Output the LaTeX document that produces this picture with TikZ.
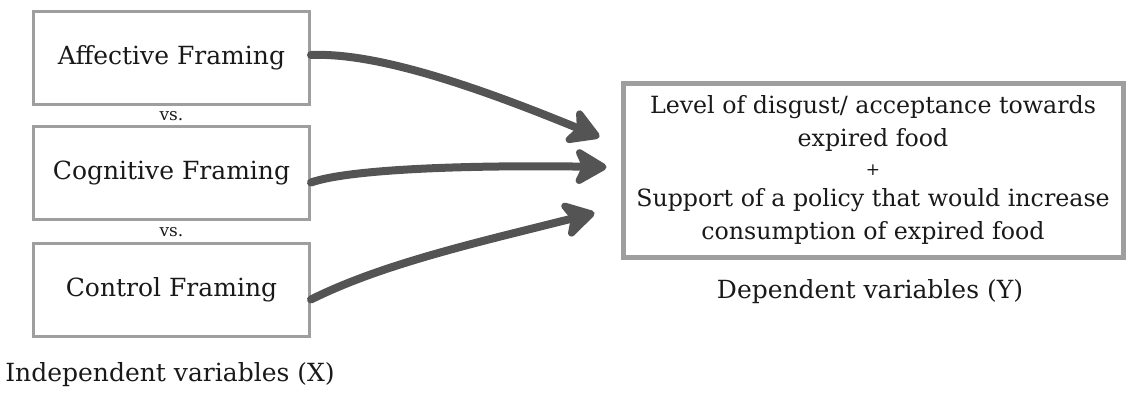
\documentclass[tikz,border=0pt]{standalone}
\usepackage{fontspec}
\setmainfont{DejaVu Serif}
\usetikzlibrary{arrows.meta}
\definecolor{framegray}{HTML}{9E9E9E}
\definecolor{arrowgray}{HTML}{545454}
\tikzset{
  framebox/.style={draw=framegray, line width=3pt, minimum width=276pt, minimum height=93pt,
    font=\fontsize{25}{30}\selectfont, text=black!90},
  vslabel/.style={font=\fontsize{17}{20}\selectfont, text=black!90},
  caption/.style={font=\fontsize{25}{30}\selectfont, text=black!90},
  fatarrow/.style={draw=arrowgray, line width=8pt, line cap=round,
    -{Stealth[length=38pt, width=44pt, inset=10pt, round]}}
}
\begin{document}
\begin{tikzpicture}[x=1pt, y=1pt]
            \useasboundingbox (0, 0) rectangle (1128, 392);
            % independent variables
            \node[framebox] (aff) at (171.5, 334) {Affective Framing};
            \node[vslabel] (vs1) at (171.5, 276) {vs.};
            \node[framebox] (cog) at (171.5, 219.5) {Cognitive Framing};
            \node[vslabel] (vs2) at (171.5, 160) {vs.};
            \node[framebox] (ctl) at (171.5, 102.5) {Control Framing};
            \node[caption] (indep) at (170, 17) {Independent variables (X)};
            % dependent variables
            \node[draw=framegray, line width=5pt, minimum width=500pt, minimum height=174pt,
                  align=center, font=\fontsize{23.7}{33}\selectfont, text=black!90] (dep) at (873, 222)
                  {Level of disgust/ acceptance towards\\ expired food\\[-4pt]
                   {\fontsize{17}{20}\selectfont +}\\[-2pt]
                   Support of a policy that would increase\\ consumption of expired food};
            \node[caption] (deplab) at (870, 100) {Dependent variables (Y)};
            % arrows
            \draw[fatarrow] ([yshift=3pt]aff.east) .. controls +(70, 3) and +(-110, 45) .. ([xshift=-21pt, yshift=33pt]dep.west);
            \draw[fatarrow] ([yshift=-10pt]cog.east) .. controls +(40, 14) and +(-130, 2) .. ([xshift=-14pt, yshift=3pt]dep.west);
            \draw[fatarrow] ([yshift=-10pt]ctl.east) .. controls +(70, 35) and +(-120, -30) .. ([xshift=-26pt, yshift=-43pt]dep.west);
          \end{tikzpicture}
\end{document}
